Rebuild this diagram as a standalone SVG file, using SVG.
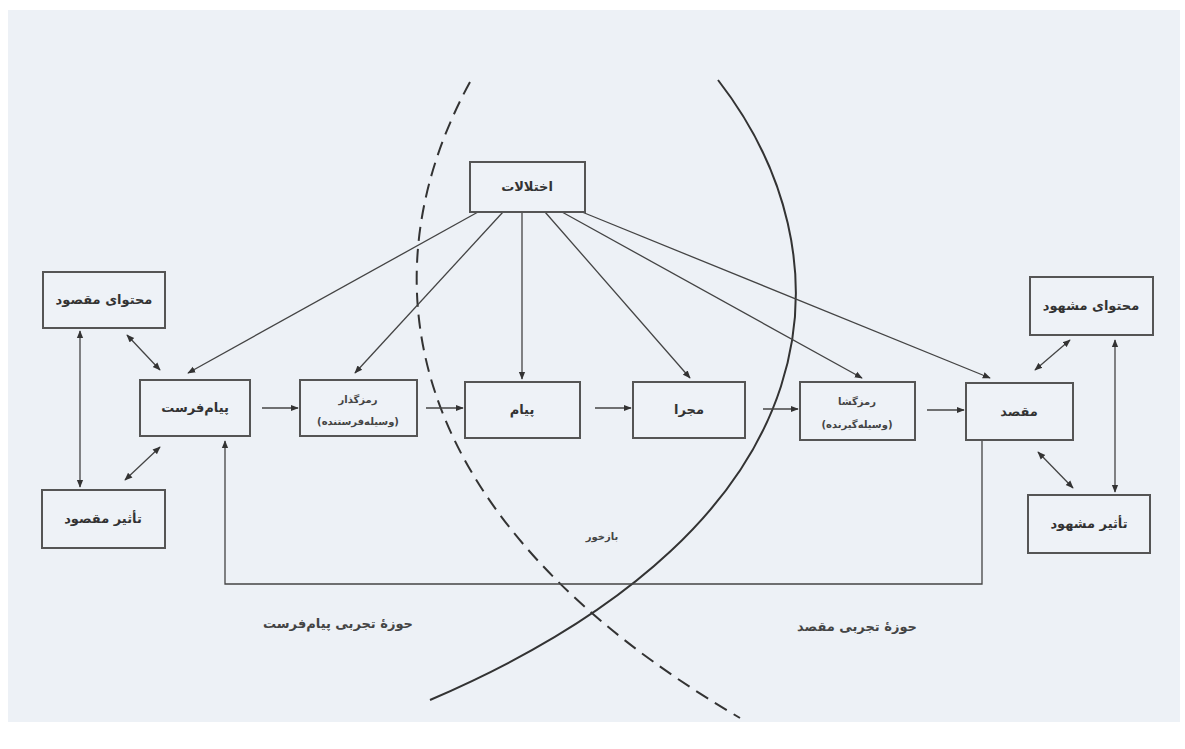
<svg xmlns="http://www.w3.org/2000/svg" width="1185" height="749" viewBox="0 0 1185 749">
<defs>
<marker id="ah" viewBox="0 0 10 10" refX="9" refY="5" markerWidth="8" markerHeight="8" markerUnits="userSpaceOnUse" orient="auto-start-reverse">
<path d="M0,1 L10,5 L0,9 z" fill="#333"/>
</marker>
<style>
.bx{fill:#eef2f7;stroke:#555;stroke-width:2}
.t{font-family:"DejaVu Sans",sans-serif;font-size:13px;font-weight:bold;fill:#333;text-anchor:middle}
.ts{font-family:"DejaVu Sans",sans-serif;font-size:10px;font-weight:bold;fill:#444;text-anchor:middle}
.tl{font-family:"DejaVu Sans",sans-serif;font-size:13px;font-weight:bold;fill:#444;text-anchor:middle}
.c{stroke:#444;stroke-width:1.3;fill:none}
.a{marker-end:url(#ah)}
.d{marker-start:url(#ah);marker-end:url(#ah)}
</style>
</defs>
<rect x="0" y="0" width="1185" height="749" fill="#ffffff"/>
<rect x="8" y="10" width="1172" height="712" fill="#edf1f6"/>
<g id="arcs">
<path d="M470,82 C362,280 402,520 740,718" stroke="#333" stroke-width="2" fill="none" stroke-dasharray="14,8"/>
<path d="M718,80 C850,250 850,520 430,700" stroke="#333" stroke-width="2" fill="none"/>
</g>
<g id="connectors">
<line class="c a" x1="478" y1="212" x2="188" y2="373"/>
<line class="c a" x1="503" y1="212" x2="355" y2="373"/>
<line class="c a" x1="522" y1="212" x2="522" y2="379"/>
<line class="c a" x1="545" y1="212" x2="690" y2="378"/>
<line class="c a" x1="562" y1="212" x2="862" y2="378"/>
<line class="c a" x1="582" y1="212" x2="990" y2="378"/>
<line class="c a" x1="262" y1="408" x2="298" y2="408"/>
<line class="c a" x1="426" y1="408" x2="463" y2="408"/>
<line class="c a" x1="595" y1="408" x2="631" y2="408"/>
<line class="c a" x1="763" y1="409" x2="798" y2="409"/>
<line class="c a" x1="927" y1="410" x2="964" y2="410"/>
<line class="c d" x1="80" y1="331" x2="80" y2="487"/>
<line class="c d" x1="127" y1="335" x2="160" y2="370"/>
<line class="c d" x1="125" y1="480" x2="160" y2="447"/>
<line class="c d" x1="1035" y1="370" x2="1070" y2="340"/>
<line class="c d" x1="1115" y1="340" x2="1115" y2="492"/>
<line class="c d" x1="1038" y1="452" x2="1073" y2="488"/>
<polyline class="c a" points="982,441 982,584 225,584 225,441" stroke-width="1.6"/>
</g>
<g id="n-ekhtelalat"><rect class="bx" x="470" y="162" width="115" height="50"/><text class="t" x="527" y="191">اختلالات</text></g>
<g id="n-mohtava-maghsud"><rect class="bx" x="43" y="272" width="122" height="56"/><text class="t" x="104" y="304">محتوای مقصود</text></g>
<g id="n-tasir-maghsud"><rect class="bx" x="42" y="490" width="123" height="58"/><text class="t" x="103" y="523">تأثیر مقصود</text></g>
<g id="n-payamferest"><rect class="bx" x="140" y="380" width="110" height="56"/><text class="t" x="195" y="412">پیام‌فرست</text></g>
<g id="n-ramzgozar"><rect class="bx" x="300" y="380" width="117" height="56"/><text class="ts" x="358" y="403">رمزگذار</text><text class="ts" x="358" y="425">(وسیله‌فرستنده)</text></g>
<g id="n-payam"><rect class="bx" x="465" y="382" width="115" height="56"/><text class="t" x="522" y="414">پیام</text></g>
<g id="n-majra"><rect class="bx" x="633" y="382" width="112" height="56"/><text class="t" x="689" y="414">مجرا</text></g>
<g id="n-ramzgosha"><rect class="bx" x="800" y="382" width="115" height="58"/><text class="ts" x="857" y="405">رمزگشا</text><text class="ts" x="857" y="428">(وسیله‌گیرنده)</text></g>
<g id="n-maghsad"><rect class="bx" x="966" y="383" width="107" height="57"/><text class="t" x="1019" y="416">مقصد</text></g>
<g id="n-mohtava-mashhud"><rect class="bx" x="1030" y="277" width="123" height="58"/><text class="t" x="1091" y="310">محتوای مشهود</text></g>
<g id="n-tasir-mashhud"><rect class="bx" x="1028" y="495" width="122" height="58"/><text class="t" x="1089" y="528">تأثیر مشهود</text></g>
<g id="labels">
<text class="ts" x="602" y="540">بازخور</text>
<text class="tl" x="338" y="628">حوزهٔ تجربی پیام‌فرست</text>
<text class="tl" x="857" y="631">حوزهٔ تجربی مقصد</text>
</g>
</svg>
